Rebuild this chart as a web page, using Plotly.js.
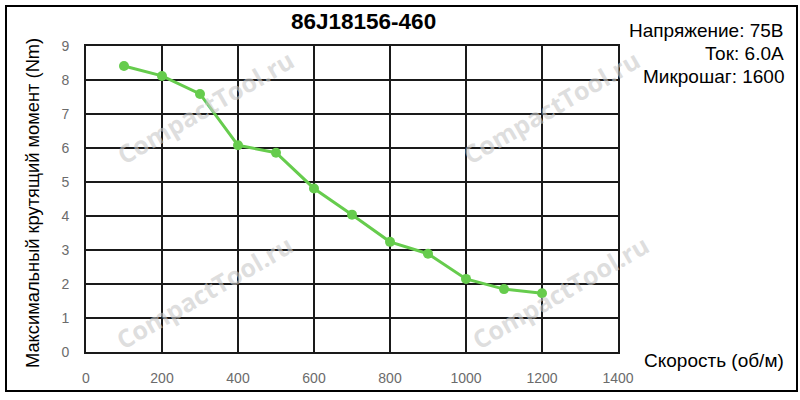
<!DOCTYPE html>
<html>
<head>
<meta charset="utf-8">
<script src="https://cdn.plot.ly/plotly-3.0.1.min.js"></script>
<style>html,body{margin:0;padding:0;background:#fff;}#chart{width:800px;height:400px;}</style>
</head>
<body>
<div id="chart"></div>
<script>
const speed = [100, 200, 300, 400, 500, 600, 700, 800, 900, 1000, 1100, 1200];
const torque = [8.41, 8.12, 7.59, 6.08, 5.86, 4.81, 4.04, 3.24, 2.89, 2.15, 1.85, 1.73];
const xTicks = [0, 200, 400, 600, 800, 1000, 1200, 1400];
const yTicks = [0, 1, 2, 3, 4, 5, 6, 7, 8, 9];
const titleText = '86J18156-460';
const infoLines = ['Напряжение: 75В', 'Ток: 6.0А', 'Микрошаг: 1600'];
const xTitle = 'Скорость (об/м)';
const yTitle = 'Максимальный крутящий момент (Nm)';
const watermark = 'CompactTool.ru';

const W = 800, H = 400, L = 86, R = 182, T = 46, B = 48;
const pw = W - L - R, ph = H - T - B;
const px = x => (x - L) / pw;
const py = y => (H - B - y) / ph;

const trace = {
  x: speed, y: torque, type: 'scatter', mode: 'lines+markers',
  line: {color: '#66cc4d', width: 3},
  marker: {color: '#66cc4d', size: 10},
  hoverinfo: 'x+y'
};

const annotations = [];
const wmPos = [[205, 107], [551, 107], [204, 292], [560, 292]];
wmPos.forEach(p => annotations.push({
  text: '<b>' + watermark + '</b>', x: px(p[0]), y: py(p[1]), xref: 'paper', yref: 'paper',
  xanchor: 'center', yanchor: 'middle', showarrow: false, textangle: -30,
  font: {family: 'Open Sans, sans-serif', size: 25, color: 'rgba(200,200,200,0.6)'}
}));
annotations.push(
  {text: '<b>' + titleText + '</b>', x: px(363), y: py(21), xref: 'paper', yref: 'paper',
   xanchor: 'center', yanchor: 'middle', showarrow: false,
   font: {family: 'Liberation Sans, Arial, sans-serif', size: 22.5, color: '#000'}},
  {text: xTitle, x: px(786), y: py(361), xref: 'paper', yref: 'paper',
   xanchor: 'right', yanchor: 'middle', showarrow: false,
   font: {family: 'Liberation Sans, Arial, sans-serif', size: 19, color: '#000'}},
  {text: yTitle, x: px(32), y: py(203), xref: 'paper', yref: 'paper', textangle: -90,
   xanchor: 'center', yanchor: 'middle', showarrow: false,
   font: {family: 'Liberation Sans, Arial, sans-serif', size: 18.3, color: '#000'}}
);
const infoY = [31, 53, 76];
infoLines.forEach((t, i) => annotations.push({
  text: t, x: px(786), y: py(infoY[i]), xref: 'paper', yref: 'paper',
  xanchor: 'right', yanchor: 'middle', showarrow: false,
  font: {family: 'Liberation Sans, Arial, sans-serif', size: 19, color: '#000'}
}));

const axisCommon = {
  showgrid: true, gridcolor: '#1a1a1a', gridwidth: 2,
  showline: true, linecolor: '#1a1a1a', linewidth: 2, mirror: true,
  zeroline: false, ticks: '', fixedrange: true,
  tickfont: {family: 'Liberation Sans Narrow, Arial Narrow, sans-serif', size: 14, color: '#6b6b6b'},
  ticklabelstandoff: 12
};

const layout = {
  width: W, height: H,
  margin: {l: L, r: R, t: T, b: B, pad: 0},
  paper_bgcolor: '#fff', plot_bgcolor: '#fff',
  showlegend: false,
  xaxis: Object.assign({}, axisCommon, {range: [0, 1400], tickvals: xTicks, ticktext: xTicks.map(String)}),
  yaxis: Object.assign({}, axisCommon, {range: [0, 9], tickvals: yTicks, ticktext: yTicks.map(String)}),
  annotations: annotations,
  shapes: [{type: 'rect', xref: 'paper', yref: 'paper',
    x0: px(6), x1: px(797), y0: py(391), y1: py(6),
    line: {color: '#000', width: 2}, fillcolor: 'rgba(0,0,0,0)', layer: 'above'}]
};

Plotly.newPlot('chart', [trace], layout, {displayModeBar: false, staticPlot: true});
</script>
</body>
</html>
